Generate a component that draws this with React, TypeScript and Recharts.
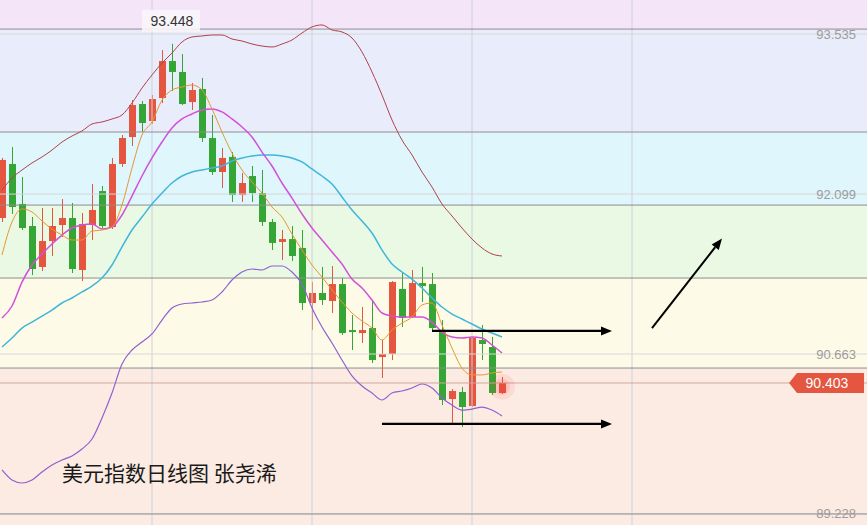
import React from 'react';
import { ComposedChart, Bar, Line, XAxis, YAxis, ReferenceArea, ReferenceLine, ReferenceDot } from 'recharts';

// daily candles
const opens = [91.884, 92.369, 92.010, 91.812, 91.444, 91.677, 91.821, 91.884, 91.417, 91.821, 92.126, 91.803, 92.369, 92.611, 92.907, 92.755, 92.961, 93.293, 93.195, 92.925, 93.042, 92.602, 92.297, 92.432, 92.090, 92.261, 92.108, 91.848, 91.669, 91.695, 91.615, 91.121, 91.211, 91.139, 91.291, 90.878, 90.851, 90.896, 90.636, 90.663, 91.247, 90.995, 91.300, 91.291, 90.860, 90.259, 90.322, 90.196, 90.789, 90.726, 90.313];
const highs = [92.423, 92.521, 92.252, 91.893, 91.974, 91.974, 92.054, 92.019, 91.929, 92.189, 92.171, 92.423, 92.629, 92.943, 92.934, 92.988, 93.392, 93.448, 93.356, 93.096, 93.141, 92.809, 92.512, 92.476, 92.288, 92.351, 92.315, 91.875, 91.776, 91.812, 91.776, 91.309, 91.444, 91.453, 91.345, 91.013, 91.085, 91.148, 90.789, 91.318, 91.399, 91.417, 91.444, 91.390, 90.968, 90.349, 90.367, 90.816, 90.923, 90.816, 90.457];
const lows = [91.848, 91.920, 91.776, 91.372, 91.408, 91.543, 91.713, 91.390, 91.318, 91.686, 91.794, 91.785, 92.342, 92.530, 92.656, 92.728, 92.916, 93.024, 92.898, 92.854, 92.566, 92.270, 92.153, 92.028, 92.028, 92.028, 91.812, 91.597, 91.507, 91.498, 91.058, 90.878, 91.103, 91.031, 90.834, 90.699, 90.762, 90.582, 90.448, 90.609, 90.905, 90.986, 91.130, 90.878, 90.205, 90.044, 90.008, 90.187, 90.609, 90.295, 90.304];
const closes = [92.405, 91.983, 91.794, 91.426, 91.677, 91.812, 91.884, 91.426, 91.830, 91.956, 91.812, 92.369, 92.602, 92.898, 92.737, 92.952, 93.293, 93.195, 92.907, 93.033, 92.602, 92.297, 92.423, 92.090, 92.198, 92.108, 91.848, 91.660, 91.695, 91.543, 91.121, 91.211, 91.148, 91.291, 90.851, 90.860, 90.878, 90.609, 90.663, 91.309, 90.986, 91.300, 91.273, 90.896, 90.250, 90.331, 90.187, 90.807, 90.753, 90.313, 90.403];

// moving averages and bollinger bands
const ma5 = [91.552, 91.848, 91.965, 91.938, 91.857, 91.785, 91.731, 91.686, 91.686, 91.767, 91.776, 91.803, 92.001, 92.333, 92.629, 92.746, 92.943, 93.033, 93.060, 93.078, 93.033, 92.863, 92.656, 92.467, 92.315, 92.207, 92.108, 91.983, 91.893, 91.740, 91.597, 91.462, 91.354, 91.238, 91.130, 91.031, 90.959, 90.896, 90.789, 90.878, 90.941, 90.995, 91.103, 91.121, 90.923, 90.717, 90.537, 90.475, 90.475, 90.493, 90.502];
const ma10 = [90.986, 91.094, 91.309, 91.462, 91.561, 91.651, 91.731, 91.794, 91.821, 91.830, 91.785, 91.803, 91.911, 92.081, 92.261, 92.423, 92.566, 92.692, 92.773, 92.818, 92.854, 92.863, 92.836, 92.773, 92.701, 92.611, 92.476, 92.351, 92.198, 92.063, 91.920, 91.794, 91.686, 91.579, 91.471, 91.336, 91.255, 91.148, 91.031, 91.004, 90.995, 90.995, 90.995, 90.950, 90.860, 90.816, 90.807, 90.816, 90.807, 90.744, 90.672];
const ma20 = [90.726, 90.807, 90.896, 90.950, 91.004, 91.058, 91.121, 91.166, 91.220, 91.273, 91.345, 91.462, 91.624, 91.776, 91.893, 92.010, 92.108, 92.198, 92.261, 92.297, 92.315, 92.333, 92.351, 92.396, 92.423, 92.441, 92.450, 92.450, 92.441, 92.423, 92.387, 92.324, 92.261, 92.189, 92.073, 91.956, 91.857, 91.749, 91.597, 91.471, 91.399, 91.336, 91.255, 91.166, 91.085, 91.022, 90.977, 90.932, 90.887, 90.851, 90.816];
const bollUpper = [92.135, 92.243, 92.315, 92.378, 92.432, 92.494, 92.566, 92.620, 92.665, 92.728, 92.746, 92.773, 92.809, 92.916, 93.051, 93.168, 93.275, 93.365, 93.464, 93.509, 93.518, 93.527, 93.527, 93.491, 93.473, 93.446, 93.428, 93.419, 93.446, 93.482, 93.545, 93.599, 93.617, 93.572, 93.554, 93.500, 93.374, 93.195, 92.988, 92.764, 92.584, 92.450, 92.297, 92.162, 92.010, 91.902, 91.794, 91.695, 91.615, 91.561, 91.543];
const bollLower = [89.622, 89.532, 89.505, 89.532, 89.604, 89.667, 89.712, 89.748, 89.810, 89.900, 90.089, 90.313, 90.573, 90.699, 90.771, 90.843, 90.968, 91.076, 91.112, 91.121, 91.130, 91.148, 91.220, 91.327, 91.399, 91.426, 91.417, 91.453, 91.453, 91.399, 91.291, 91.076, 90.905, 90.762, 90.609, 90.466, 90.376, 90.313, 90.250, 90.313, 90.331, 90.358, 90.394, 90.358, 90.268, 90.205, 90.160, 90.169, 90.187, 90.160, 90.107];

const priceTicks = [93.535, 92.099, 90.663, 89.228];
const bandEdges = [93.841, 93.58, 92.656, 92.0, 91.345, 90.537, 89.128];
const bandColors = ['#f4e5f9', '#e9ecfb', '#def6fc', '#eaf9e4', '#fdfbe7', '#fcebe2'];
const bandLines = [93.58, 92.656, 92.0, 91.345, 90.537, 89.227];
const gridCols = [15, 31, 47, 63];
const lastPrice = 90.403;
const highMark = 93.448;
const highIndex = 17;
const SLOTS = 87;

const RED = '#e4563f';
const GREEN = '#35a535';

const rows = Array.from({ length: SLOTS }, (_, i) =>
  i < closes.length
    ? {
        i,
        open: opens[i],
        high: highs[i],
        low: lows[i],
        close: closes[i],
        range: [lows[i], highs[i]],
        ma5: ma5[i],
        ma10: ma10[i],
        ma20: ma20[i],
        up: bollUpper[i],
        dn: bollLower[i],
      }
    : { i }
);

const Candle = (props: any) => {
  const { x, y, width, height, payload } = props;
  if (!payload || payload.open == null) return null;
  const top = Math.min(y, y + height);
  const h = Math.abs(height);
  const { open, close, high, low } = payload;
  const span = high - low || 1;
  const py = (v: number) => top + ((high - v) / span) * h;
  const color = close >= open ? RED : GREEN;
  const cx = Math.floor(x + width / 2) + 0.5;
  const bTop = py(Math.max(open, close));
  const bBot = py(Math.min(open, close));
  return (
    <g>
      <line x1={cx} x2={cx} y1={top} y2={top + h} stroke={color} strokeWidth={1} />
      <rect x={cx - 3.5} y={bTop} width={7} height={Math.max(1.5, bBot - bTop)} fill={color} />
    </g>
  );
};

const Arrow = (p: any) => {
  const { x1, y1, x2, y2 } = p;
  const w = p.strokeWidth || 2;
  const ang = Math.atan2(y2 - y1, x2 - x1);
  const L = 11;
  const W = 4.5;
  const bx = x2 - L * Math.cos(ang);
  const by = y2 - L * Math.sin(ang);
  const nx = -Math.sin(ang) * W;
  const ny = Math.cos(ang) * W;
  return (
    <g>
      <line x1={x1} y1={y1} x2={bx} y2={by} stroke="#000" strokeWidth={w} />
      <polygon points={`${x2},${y2} ${bx + nx},${by + ny} ${bx - nx},${by - ny}`} fill="#000" />
    </g>
  );
};

const PriceTag = (props: any) => {
  const vb = props.viewBox;
  const right = vb.x + vb.width - 3;
  const cy = vb.y;
  return (
    <g>
      <path
        d={`M${right - 75},${cy} L${right - 67},${cy - 10} L${right},${cy - 10} L${right},${cy + 10} L${right - 67},${cy + 10} Z`}
        fill={RED}
      />
      <text x={right - 37} y={cy + 5} fill="#fff" fontSize={14} textAnchor="middle" fontFamily="Liberation Sans, Arial, sans-serif">
        {lastPrice.toFixed(3)}
      </text>
    </g>
  );
};

const HighTag = (props: any) => {
  const vb = props.viewBox;
  const cx = vb.x + vb.width / 2;
  const cy = vb.y + vb.height / 2;
  return (
    <g>
      <rect x={cx - 30} y={cy - 34} width={58} height={22} fill="#f8f5f8" fillOpacity={0.9} />
      <text x={cx} y={cy - 18} fill="#333" fontSize={14} textAnchor="middle" fontFamily="Liberation Sans, Arial, sans-serif">
        {highMark.toFixed(3)}
      </text>
    </g>
  );
};

const lineProps = { type: 'monotone' as const, dot: false, activeDot: false, isAnimationActive: false, legendType: 'none' as const };

export default function App() {
  return (
    <div style={{ position: 'fixed', left: 0, top: 0, width: 867, height: 525, overflow: 'hidden', background: '#fff' }}>
      <div style={{ position: 'absolute', left: -3, top: 0 }}>
        <ComposedChart width={870} height={525} data={rows} margin={{ top: 0, right: 0, bottom: 0, left: 0 }} barCategoryGap={0}>
          <XAxis dataKey="i" type="category" hide />
          <YAxis type="number" domain={[89.128, 93.841]} hide allowDataOverflow />
          {bandColors.map((c, k) => (
            <ReferenceArea key={c} y1={bandEdges[k + 1]} y2={bandEdges[k]} fill={c} fillOpacity={1} stroke="none" />
          ))}
          {gridCols.map((g) => (
            <ReferenceLine key={`v${g}`} x={g} stroke="#cfd0dc" strokeWidth={1} />
          ))}
          {priceTicks.map((t) => (
            <ReferenceLine
              key={`t${t}`}
              y={t}
              stroke="#d8d8d8"
              strokeWidth={1}
              label={{ value: t.toFixed(3), position: 'insideRight', offset: 11, fill: '#9c9c9c', fontSize: 13, fontFamily: 'Liberation Sans, Arial, sans-serif' }}
            />
          ))}
          {bandLines.map((b) => (
            <ReferenceLine key={`b${b}`} y={b} stroke="#8e8e8e" strokeWidth={1} />
          ))}
          <ReferenceLine y={lastPrice} stroke="#cfa89c" strokeWidth={1} label={PriceTag} />
          <ReferenceDot x={50} y={90.37} r={13} fill="#ff3b3b" fillOpacity={0.1} stroke="none" />
          <ReferenceDot x={50} y={90.37} r={8} fill="#ff3b3b" fillOpacity={0.12} stroke="none" />
          <Bar dataKey="range" barSize={7} shape={Candle} isAnimationActive={false} />
          <Line dataKey="up" stroke="#b0424a" strokeWidth={1} {...lineProps} />
          <Line dataKey="dn" stroke="#9160d2" strokeWidth={1.2} {...lineProps} />
          <Line dataKey="ma20" stroke="#3fb6da" strokeWidth={1.5} {...lineProps} />
          <Line dataKey="ma10" stroke="#d44fd8" strokeWidth={1.5} {...lineProps} />
          <Line dataKey="ma5" stroke="#e8962e" strokeWidth={1} {...lineProps} />
          <ReferenceDot x={highIndex} y={highMark} r={1} fill="none" stroke="none" label={HighTag} />
          <ReferenceLine segment={[{ x: 43, y: 90.87 }, { x: 61, y: 90.87 }]} stroke="#000" strokeWidth={2.2} shape={Arrow} />
          <ReferenceLine segment={[{ x: 38, y: 90.035 }, { x: 61, y: 90.035 }]} stroke="#000" strokeWidth={2.2} shape={Arrow} />
          <ReferenceLine segment={[{ x: 65, y: 90.896 }, { x: 72, y: 91.7 }]} stroke="#000" strokeWidth={2} shape={Arrow} />
        </ComposedChart>
      </div>
      <div
        style={{
          position: 'absolute',
          left: 62,
          top: 460,
          fontSize: 21,
          lineHeight: '24px',
          color: '#1a1a1a',
          fontFamily: '"Noto Sans CJK SC", sans-serif',
          whiteSpace: 'nowrap',
        }}
      >
        美元指数日线图 张尧浠
      </div>
    </div>
  );
}
